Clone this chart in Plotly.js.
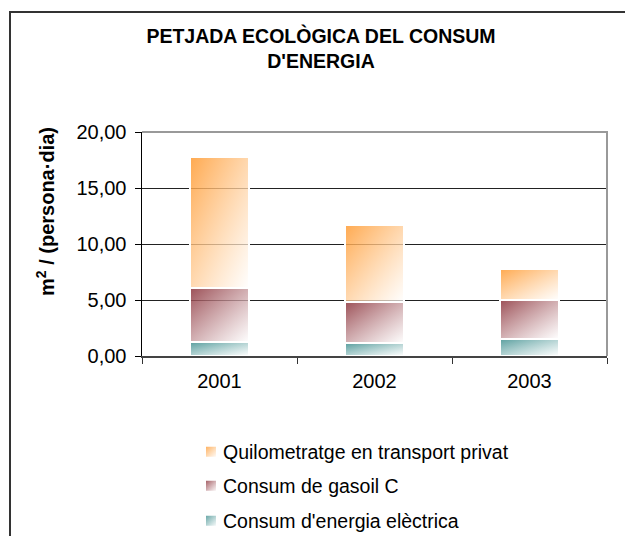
<!DOCTYPE html>
<html>
<head>
<meta charset="utf-8">
<script src="https://cdn.plot.ly/plotly-3.0.1.min.js"></script>
<style>
  html, body { margin:0; padding:0; background:#fff; overflow:hidden; width:625px; height:536px; }
  #chart { width:625px; height:546px; }
</style>
</head>
<body>
<div id="chart"></div>
<script>
// ---- data ----
const years = ['2001', '2002', '2003'];
const electricity = [1.25, 1.15, 1.55];   // Consum d'energia elèctrica
const gasoil = [4.85, 3.70, 3.45];        // Consum de gasoil C
const transport = [11.65, 6.85, 2.75];    // Quilometratge en transport privat
const seriesNames = ["Consum d'energia elèctrica", 'Consum de gasoil C', 'Quilometratge en transport privat'];
const yTicks = [0, 5, 10, 15, 20];

// gradient styles (top-left colour -> bottom-right white)
const gradStart = ['#3a8c8c', '#8a3038', '#ff9a30'];

const FONT = '"Liberation Sans", Arial, sans-serif';
const H = 546, W = 625;   // figure slightly taller than the window; bottom strip is cropped

function barTrace(name, vals, legendId, i) {
  return {
    type: 'bar', x: years, y: vals, name: name, legend: legendId,
    marker: { color: gradStart[i], line: { color: '#ffffff', width: 2 } },
    hoverinfo: 'skip'
  };
}

const data = [
  barTrace(seriesNames[0], electricity, 'legend3', 0),
  barTrace(seriesNames[1], gasoil, 'legend2', 1),
  barTrace(seriesNames[2], transport, 'legend', 2)
];

function legendAt(ypx) {
  return {
    x: 183 / W, xanchor: 'left', xref: 'paper',
    y: 1 - ypx / H, yanchor: 'middle', yref: 'paper',
    bgcolor: 'rgba(0,0,0,0)', borderwidth: 0,
    font: { family: FONT, size: 19.5, color: '#000' }
  };
}

const FX = 10 / W;       // outer frame left

const layout = {
  width: W, height: H,
  margin: { l: 0, r: 0, t: 0, b: 0, pad: 0 },
  paper_bgcolor: '#ffffff', plot_bgcolor: '#ffffff',
  separators: ',.',
  barmode: 'stack',
  bargap: 0.613,
  showlegend: true,
  font: { family: FONT, size: 20, color: '#000' },
  title: {
    text: "PETJADA ECOLÒGICA DEL CONSUM<br>D'ENERGIA",
    font: { family: FONT, size: 19.5, color: '#000', weight: 'bold' },
    xref: 'container', x: 0.5136, xanchor: 'center',
    yref: 'container', y: 1 - 43 / H, yanchor: 'top',
    automargin: false
  },
  xaxis: {
    type: 'category',
    domain: [142 / W, 607 / W],
    showline: true, linecolor: '#444', linewidth: 2,
    ticks: 'outside', tickson: 'boundaries', ticklen: 6, tickcolor: '#333', tickwidth: 1,
    showgrid: false, zeroline: false,
    ticklabelstandoff: 6,
    tickfont: { family: FONT, size: 20, color: '#000' }
  },
  yaxis: {
    domain: [1 - 356 / H, 1 - 132 / H],
    range: [0, 20], tickvals: yTicks, tickformat: '.2f',
    showline: true, linecolor: '#000', linewidth: 1.5,
    ticks: 'outside', ticklen: 6, tickcolor: '#000', tickwidth: 1,
    showgrid: true, gridcolor: '#222', gridwidth: 1,
    zeroline: false,
    ticklabelstandoff: 4,
    tickfont: { family: FONT, size: 20, color: '#000' }
  },
  legend: legendAt(452),
  legend2: legendAt(486),
  legend3: legendAt(521),
  annotations: [{
    text: 'm<sup>2</sup> / (persona·dia)',
    textangle: -90, showarrow: false,
    xref: 'paper', x: 46 / W, xanchor: 'center',
    yref: 'paper', y: 1 - 212 / H, yanchor: 'middle',
    font: { family: FONT, size: 20, color: '#000', weight: 'bold' }
  }],
  shapes: [
    { // plot-area frame (top and right)
      type: 'path', xref: 'x domain', yref: 'y domain',
      path: 'M0,1 L1,1 L1,0', line: { color: '#999', width: 2 }
    },
    { // outer chart frame (only top and left edges fall inside the window)
      type: 'rect', xref: 'paper', yref: 'paper',
      x0: FX, x1: 1.2, y0: -0.2, y1: 1 - 12 / H,
      line: { color: '#333', width: 2 }, fillcolor: 'rgba(0,0,0,0)', layer: 'above'
    }
  ]
};

const gd = document.getElementById('chart');
Plotly.newPlot(gd, data, layout, { staticPlot: true, displayModeBar: false }).then(applyGradients);

function applyGradients() {
  const ns = 'http://www.w3.org/2000/svg';
  const svg = gd.querySelector('svg.main-svg');
  let defs = svg.querySelector('defs');
  if (!defs) { defs = document.createElementNS(ns, 'defs'); svg.insertBefore(defs, svg.firstChild); }
  gradStart.forEach((c, i) => {
    const lg = document.createElementNS(ns, 'linearGradient');
    lg.setAttribute('id', 'bargrad' + i);
    lg.setAttribute('x1', '0'); lg.setAttribute('y1', '0');
    lg.setAttribute('x2', '1'); lg.setAttribute('y2', '1');
    const s1 = document.createElementNS(ns, 'stop');
    s1.setAttribute('offset', '0'); s1.setAttribute('stop-color', c); s1.setAttribute('stop-opacity', '0.85');
    const s2 = document.createElementNS(ns, 'stop');
    s2.setAttribute('offset', '1'); s2.setAttribute('stop-color', '#ffffff'); s2.setAttribute('stop-opacity', '0.7');
    lg.appendChild(s1); lg.appendChild(s2);
    defs.appendChild(lg);
  });
  gd.querySelectorAll('.barlayer .trace').forEach(t => {
    const cd = t.__data__;
    const idx = cd && cd[0] && cd[0].trace ? cd[0].trace.index : 0;
    t.querySelectorAll('path').forEach(p => { p.style.fill = 'url(#bargrad' + idx + ')'; p.style.fillOpacity = 1; });
  });
  gd.querySelectorAll('.infolayer .traces').forEach(t => {
    const d = t.__data__;
    const idx = d && d[0] && d[0].trace ? d[0].trace.index : 0;
    t.querySelectorAll('.legendpoints path').forEach(p => { p.style.fill = 'url(#bargrad' + idx + ')'; p.style.fillOpacity = 1; });
    const lp = t.querySelector('.legendpoints');
    if (lp) {
      const old = lp.getAttribute('transform') || '';
      lp.setAttribute('transform', old + ' translate(8,0)');
    }
  });
}
</script>
</body>
</html>
